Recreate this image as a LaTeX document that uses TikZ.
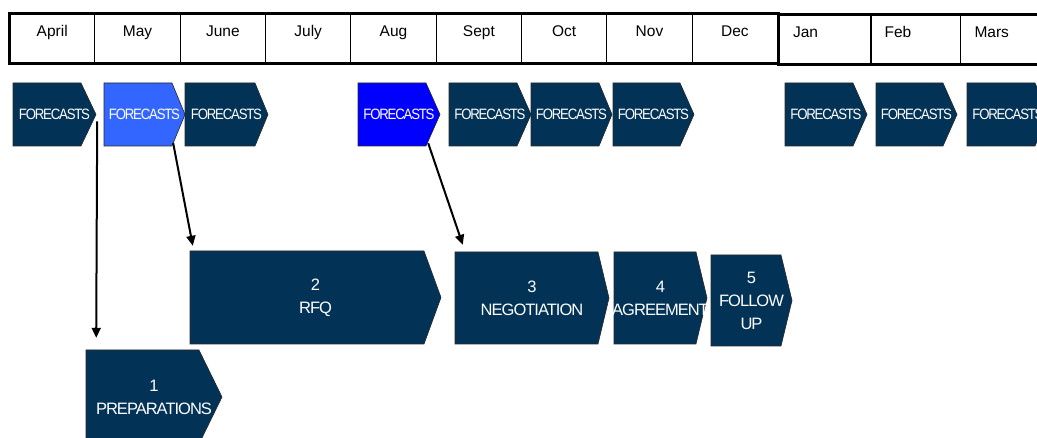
\documentclass[tikz,border=0pt]{standalone}
\usepackage{fontspec}
\setmainfont{Liberation Sans}
\newfontfamily\fcfont[FakeStretch=0.88,LetterSpace=-8]{Liberation Sans}
\newfontfamily\stepfont[LetterSpace=-6]{Liberation Sans}
\usetikzlibrary{arrows.meta,calc}

\definecolor{navy}{RGB}{2,51,87}
\definecolor{lightblue}{RGB}{51,102,255}
\definecolor{brightblue}{RGB}{0,0,255}
\definecolor{edge}{RGB}{40,40,40}

\tikzset{
  month/.style={draw, line width=1.1pt, inner sep=0pt, anchor=north west,
    minimum height=48pt, text height=22pt, text depth=26pt,
    font=\fontsize{15.5}{18}\selectfont},
  monthL/.style={month, align=left, inner xsep=14pt},
  fclabel/.style={text=white, inner sep=0pt, align=center,
    font=\fcfont\fontsize{15}{17}\selectfont},
  steplabel/.style={text=white, inner sep=0pt, align=center,
    font=\stepfont\fontsize{16.5}{23}\selectfont},
  arr/.style={line width=2pt, -{Triangle[length=10pt,width=9pt]}},
  frame/.style={line width=3pt}
}

% chevron: name, left x, shoulder x, tip x, top y, bottom y, fill, label style, text
\newcommand{\chevron}[9]{%
  \filldraw[fill=#7, draw=edge, line width=0.6pt]
    (#2,#5) -- (#3,#5) -- (#4,{(#5+#6)/2}) -- (#3,#6) -- (#2,#6) -- cycle;
  \node[#8, minimum width={#4pt-#2pt}, minimum height={#6pt-#5pt}]
    (#1) at ({(#2+#4)/2},{(#5+#6)/2}) {#9};
}

\begin{document}
\begin{tikzpicture}[x=1pt, y=-1pt]
\useasboundingbox (0,0) rectangle (1037,438);
\clip (0,0) rectangle (1037,438);

% month header, April to December
\foreach \nm/\lab [count=\i from 0] in
  {apr/April, may/May, jun/June, jul/July, aug/Aug, sep/Sept, oct/Oct, nov/Nov, dec/Dec}
  \node[month, minimum width=85.33pt] (\nm) at ({9+85.33*\i},14) {\lab};
\draw[frame] (apr.north west) rectangle (dec.south east);

% month header, January to March
\node[monthL, text width=64pt] (jan) at (778.5,15) {Jan};
\node[monthL, text width=62pt] (feb) at (870,15) {Feb};
\node[monthL, text width=70pt] (mar) at (960,15) {Mars};
\draw[frame] (jan.north west) rectangle (mar.south east);

% forecast chevrons
\chevron{aprF}{13}{81}{96}{83}{146}{navy}{fclabel}{FORECASTS}
\chevron{mayF}{104}{172}{185}{83}{146}{lightblue}{fclabel}{FORECASTS}
\chevron{junF}{185}{255}{268}{83}{146}{navy}{fclabel}{FORECASTS}
\chevron{augF}{358}{426}{440}{83}{146}{brightblue}{fclabel}{FORECASTS}
\chevron{sepF}{449}{517}{531}{83}{146}{navy}{fclabel}{FORECASTS}
\chevron{octF}{531}{599}{612}{83}{146}{navy}{fclabel}{FORECASTS}
\chevron{novF}{613}{680}{694}{83}{146}{navy}{fclabel}{FORECASTS}
\chevron{janF}{785}{853}{867}{83}{146}{navy}{fclabel}{FORECASTS}
\chevron{febF}{876}{943}{957}{83}{146}{navy}{fclabel}{FORECASTS}
\chevron{marF}{967}{1035}{1049}{83}{146}{navy}{fclabel}{FORECASTS}

% process steps
\chevron{prep}{86}{199}{222}{350}{444}{navy}{steplabel}{1\\PREPARATIONS}
\chevron{rfq}{190}{424}{441}{251}{344}{navy}{steplabel}{2\\RFQ}
\chevron{neg}{455}{598}{609}{252}{344}{navy}{steplabel}{3\\NEGOTIATION}
\chevron{agr}{614}{696}{707}{252}{344}{navy}{steplabel}{4\\AGREEMENT}
\chevron{fol}{711}{781}{792}{255}{346}{navy}{steplabel}{5\\FOLLOW\\UP}

% links from forecasts to steps
\draw[arr] ($(aprF.east)+(1,7)$) -- ($(aprF.east |- prep.north)+(0,-12)$);
\draw[arr] ($(mayF.south east)+(-12,-3)$) -- ($(rfq.north west)+(3,-5)$);
\draw[arr] ($(augF.south east)+(-12,-3)$) -- ($(neg.north west)+(8,-7)$);
\end{tikzpicture}
\end{document}
